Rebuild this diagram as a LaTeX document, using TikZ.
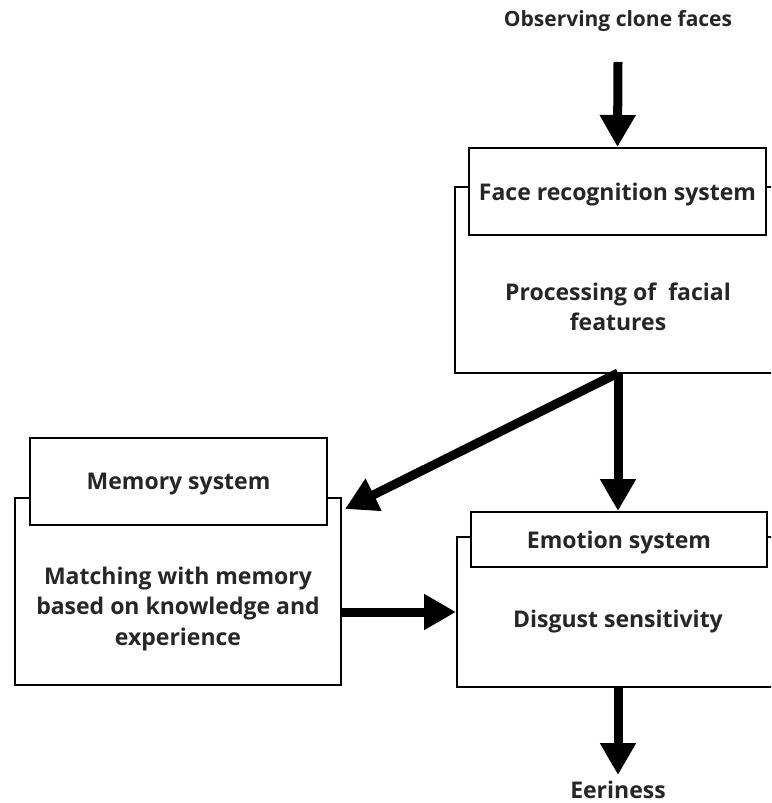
\documentclass[tikz,border=0pt]{standalone}
\usepackage{fontspec}
\setmainfont{Open Sans}
\usetikzlibrary{arrows.meta}

\begin{document}
\begin{tikzpicture}[x=1pt,y=1pt,
        hdr/.style={draw,line width=2pt,fill=white,inner sep=0pt},
        outer/.style={draw,line width=2pt,inner sep=0pt},
        txt/.style={align=center,inner sep=0pt,text=black!85,font=\bfseries\fontsize{23}{30.5}\selectfont},
        flow/.style={line width=9pt,-{Triangle[length=32pt,width=34pt]}}]
    \useasboundingbox (0,0) rectangle (771,-803);
    \clip (0,0) rectangle (771,-803);

    \node[txt,font=\bfseries\fontsize{21}{26}\selectfont] (obs) at (618,-21) {Observing clone faces};
    \coordinate (obsend) at (618,-62);

    % face recognition
    \node[outer,minimum width=345pt,minimum height=186pt] (faceouter) at (627.5,-280) {};
    \node[hdr,minimum width=297pt,minimum height=87pt] (facehdr) at (617.5,-191.5) {};
    \node[txt,yshift=-3pt] at (facehdr) {Face recognition system};
    \node[txt] (facetxt) at (618,-307) {Processing of \ facial\\features};
    \coordinate (facebot) at (618,-373);

    % memory
    \node[outer,minimum width=326pt,minimum height=187pt] (memouter) at (178,-591.5) {};
    \node[hdr,minimum width=297pt,minimum height=87pt] (memhdr) at (178.5,-481.5) {};
    \node[txt,yshift=-3pt] at (memhdr) {Memory system};
    \node[txt] (memtxt) at (178,-609) {Matching with memory\\based on knowledge and\\experience};

    % emotion
    \node[outer,minimum width=343pt,minimum height=150pt] (emoouter) at (628.5,-612) {};
    \node[hdr,minimum width=296pt,minimum height=55pt] (emohdr) at (619,-539.5) {};
    \node[txt,yshift=-3pt] at (emohdr) {Emotion system};
    \node[txt] (emotxt) at (618,-622) {Disgust sensitivity};

    \node[txt] (eer) at (618,-790) {Eeriness};
    \coordinate (eerend) at (618,-775);

    \draw[flow] (obsend) -- (facehdr.north);
    \draw[flow] (facebot) -- (facebot |- emohdr.north);
    \draw[flow] (facebot) -- ([xshift=3pt,yshift=-12pt]memouter.north east);
    \draw[flow] (memouter.east |- emoouter.west) -- (emoouter.west);
    \draw[flow] (facebot |- emoouter.south) -- (eerend);
\end{tikzpicture}
\end{document}
